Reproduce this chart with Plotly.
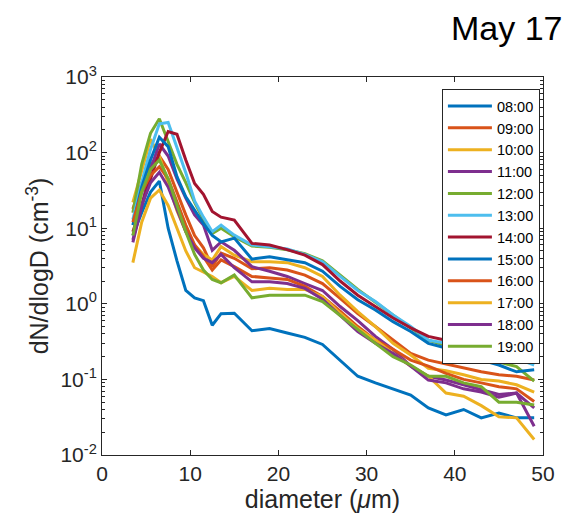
import plotly.graph_objects as go

# particle size bins (um)
diameter = [3.5, 4.5, 5.5, 6.5, 7.5, 8.5, 9.5, 10.5, 11.5, 12.5, 13.5, 15, 17, 19, 21,
            23, 25, 27, 29, 31, 33, 35, 37, 39, 41, 43, 45, 47, 49]

hours = ["08:00", "09:00", "10:00", "11:00", "12:00", "13:00",
         "14:00", "15:00", "16:00", "17:00", "18:00", "19:00"]

n_0800 = [8, 16, 30, 42, 10, 3.7, 1.5, 1.2, 1.1, 0.52, 0.74, 0.75, 0.44, 0.47, 0.41, 0.36, 0.29,
          0.18, 0.11, 0.09, 0.075, 0.062, 0.042, 0.034, 0.040, 0.031, 0.036, 0.031, 0.031]
n_0900 = [18, 40, 70, 90, 60, 30, 15, 8, 5.5, 3.1, 4.7, 4.0, 2.9, 3.0, 2.8, 2.4, 1.85, 1.18,
          0.74, 0.50, 0.33, 0.22, 0.18, 0.16, 0.14, 0.126, 0.115, 0.11, 0.098]
n_1000 = [22, 60, 150, 90, 40, 17, 9, 6, 4.5, 3.8, 5.7, 4.4, 3.6, 3.6, 3.5, 3.0, 2.3, 1.3,
          0.79, 0.50, 0.30, 0.21, 0.14, 0.13, 0.115, 0.10, 0.095, 0.085, 0.068]
n_1100 = [6.5, 20, 60, 130, 90, 45, 25, 15, 11, 5.1, 6.6, 5.1, 3.1, 2.7, 2.3, 1.85, 1.5, 0.92,
          0.6, 0.37, 0.25, 0.15, 0.11, 0.098, 0.085, 0.073, 0.063, 0.066, 0.042]
n_1200 = [16, 70, 180, 280, 140, 70, 40, 22, 13, 8.5, 10, 7.7, 5.8, 5.6, 5.2, 4.6, 3.7, 2.4,
          1.55, 1.05, 0.70, 0.48, 0.33, 0.28, 0.22, 0.20, 0.17, 0.148, 0.095]
n_1300 = [13, 40, 110, 240, 250, 120, 54, 23, 14, 9, 11, 8.1, 6.0, 5.7, 5.3, 4.5, 3.6, 2.3,
          1.5, 1.07, 0.71, 0.50, 0.33, 0.30, 0.26, 0.245, 0.21, 0.19, 0.155]
n_1400 = [9, 20, 45, 100, 190, 175, 80, 39, 28, 16.6, 14, 12.8, 6.3, 6.0, 5.2, 4.4, 3.3, 2.0,
          1.3, 0.92, 0.65, 0.48, 0.37, 0.33, 0.30, 0.27, 0.245, 0.22, 0.21]
n_1500 = [11, 35, 80, 160, 120, 48, 26, 17, 11.5, 8.0, 6.6, 7.4, 3.9, 4.2, 3.8, 3.5, 2.7, 1.7,
          1.13, 0.83, 0.58, 0.43, 0.30, 0.26, 0.21, 0.18, 0.155, 0.126, 0.134]
n_1600 = [12, 30, 50, 65, 45, 22, 11, 6, 4.2, 2.8, 3.8, 3.1, 2.3, 2.2, 2.1, 1.7, 1.25, 0.8,
          0.5, 0.33, 0.25, 0.18, 0.15, 0.12, 0.10, 0.09, 0.08, 0.075, 0.051]
n_1700 = [3.5, 12, 25, 32, 20, 10, 5, 3, 2.6, 2.3, 1.9, 2.3, 1.5, 1.6, 1.55, 1.55, 1.25, 0.75,
          0.47, 0.33, 0.22, 0.15, 0.11, 0.066, 0.06, 0.045, 0.032, 0.031, 0.016]
n_1800 = [7, 20, 40, 55, 35, 18, 9, 5.5, 4.0, 3.5, 4.5, 3.0, 1.95, 1.95, 1.85, 1.6, 1.15, 0.7,
          0.43, 0.30, 0.22, 0.15, 0.098, 0.09, 0.075, 0.068, 0.058, 0.066, 0.024]
n_1900 = [8, 30, 60, 80, 45, 20, 9, 4.5, 2.8, 2.1, 1.9, 2.4, 1.2, 1.3, 1.3, 1.3, 1.07, 0.7,
          0.45, 0.30, 0.2, 0.155, 0.11, 0.11, 0.09, 0.08, 0.05, 0.05, 0.046]

ytick_vals = [0.01, 0.1, 1, 10, 100, 1000]
ytick_text = ["10<sup>-2</sup>", "10<sup>-1</sup>", "10<sup>0</sup>",
              "10<sup>1</sup>", "10<sup>2</sup>", "10<sup>3</sup>"]

series = [n_0800, n_0900, n_1000, n_1100, n_1200, n_1300,
          n_1400, n_1500, n_1600, n_1700, n_1800, n_1900]
colors = ["#0072BD", "#D95319", "#EDB120", "#7E2F8E", "#77AC30", "#4DBEEE", "#A2142F"]

fig = go.Figure()
for i, (name, vals) in enumerate(zip(hours, series)):
    fig.add_trace(go.Scatter(x=diameter, y=vals, name=name, mode="lines",
                             line=dict(color=colors[i % 7], width=3)))

ink = "#262626"
minor_vals = [m * 10 ** e for e in range(-2, 3) for m in range(2, 10)]

# page body has an 8px margin, so the figure is 8px smaller than the window
fig.update_layout(
    width=562, height=510,
    margin=dict(l=94, r=27, t=69, b=63),
    paper_bgcolor="white", plot_bgcolor="white",
    font=dict(family="Liberation Sans, Arial, sans-serif", color=ink, size=21),
    legend=dict(x=0.993, y=0.968, xanchor="right", yanchor="top",
                bordercolor=ink, borderwidth=1, bgcolor="white",
                itemwidth=44, font=dict(size=14.5, color="black")),
    annotations=[dict(text="May 17", xref="paper", yref="paper", x=1.05, y=1.13,
                      xanchor="right", yanchor="middle", showarrow=False,
                      font=dict(size=34, color="black"))],
)
fig.update_xaxes(range=[0, 50], dtick=10, ticks="inside", ticklen=5, tickcolor=ink,
                 showline=True, linecolor=ink, linewidth=1, mirror="allticks",
                 showgrid=False, zeroline=False, automargin=False,
                 title=dict(text="diameter (<i>μ</i>m)", font=dict(size=25), standoff=4))
fig.update_yaxes(type="log", range=[-2, 3], tickmode="array", tickvals=ytick_vals,
                 ticktext=ytick_text, ticks="inside", ticklen=5, tickcolor=ink,
                 showline=True, linecolor=ink, linewidth=1, mirror="allticks",
                 showgrid=False, zeroline=False, automargin=False,
                 minor=dict(tickmode="array", tickvals=minor_vals, ticks="inside",
                            ticklen=3, tickcolor=ink, showgrid=False),
                 title=dict(text="dN/dlogD (cm<sup>-3</sup>)", font=dict(size=25), standoff=4))

fig.write_html("out.html")
